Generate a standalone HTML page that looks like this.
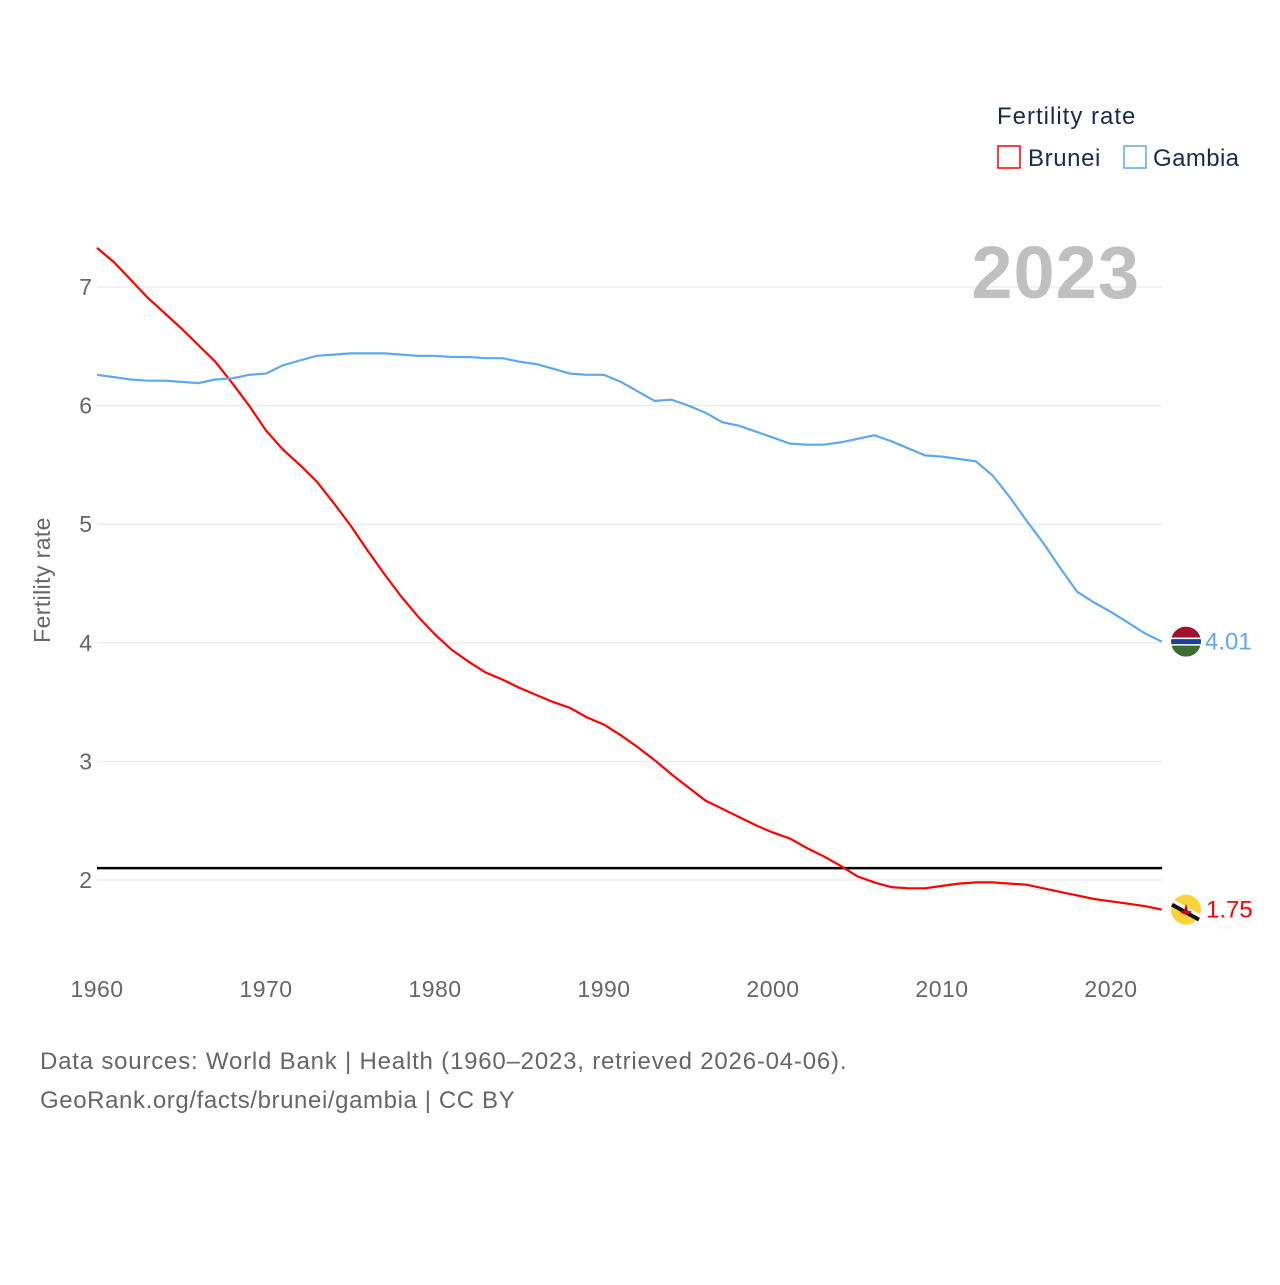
<!DOCTYPE html>
<html><head><meta charset="utf-8">
<style>
body{margin:0;background:#fff;}
svg text{font-family:"Liberation Sans",sans-serif;}
</style></head>
<body>
<svg id="chart" width="1280" height="1280" xmlns="http://www.w3.org/2000/svg">
<rect width="1280" height="1280" fill="#fff"/>
<g id="grid"></g>
<text x="1140" y="298" text-anchor="end" font-size="74" font-weight="bold" fill="#c0c0c0" letter-spacing="1">2023</text>
<g id="plot"></g>
<text transform="translate(50,580) rotate(-90)" text-anchor="middle" font-size="23" fill="#666" letter-spacing="0.4">Fertility rate</text>
<text x="997" y="124" font-size="24" fill="#1a2a4a" letter-spacing="1">Fertility rate</text>
<g>
<rect x="998" y="146" width="22" height="22" fill="none" stroke="#f00" stroke-width="1.5"/>
<text x="1028" y="166" font-size="24" fill="#1a2a4a" letter-spacing="0.6">Brunei</text></g>
<g>
<rect x="1124" y="146" width="22" height="22" fill="none" stroke="#5ea8ee" stroke-width="1.5"/>
<text x="1153" y="166" font-size="24" fill="#1a2a4a" letter-spacing="0.4">Gambia</text></g>
<text x="40" y="1069" font-size="24" fill="#666" letter-spacing="0.8">Data sources: World Bank | Health (1960–2023, retrieved 2026-04-06).</text>
<text x="40" y="1108" font-size="24" fill="#666" letter-spacing="0.6">GeoRank.org/facts/brunei/gambia | CC BY</text>
</svg>
<script>
const years=[];for(let y=1960;y<=2023;y++)years.push(y);
const brunei=[7.33,7.21,7.06,6.91,6.78,6.65,6.51,6.37,6.19,6.0,5.79,5.63,5.50,5.36,5.18,4.99,4.78,4.58,4.39,4.22,4.07,3.94,3.84,3.75,3.69,3.62,3.56,3.50,3.45,3.37,3.31,3.22,3.12,3.01,2.89,2.78,2.67,2.60,2.53,2.46,2.40,2.35,2.27,2.20,2.12,2.03,1.98,1.94,1.93,1.93,1.95,1.97,1.98,1.98,1.97,1.96,1.93,1.90,1.87,1.84,1.82,1.80,1.78,1.75];
const gambia=[6.26,6.24,6.22,6.21,6.21,6.20,6.19,6.22,6.23,6.26,6.27,6.34,6.38,6.42,6.43,6.44,6.44,6.44,6.43,6.42,6.42,6.41,6.41,6.40,6.40,6.37,6.35,6.31,6.27,6.26,6.26,6.20,6.12,6.04,6.05,6.00,5.94,5.86,5.83,5.78,5.73,5.68,5.67,5.67,5.69,5.72,5.75,5.70,5.64,5.58,5.57,5.55,5.53,5.41,5.23,5.03,4.84,4.63,4.43,4.34,4.26,4.17,4.08,4.01];
const yTicks=[2,3,4,5,6,7];
const xTicks=[1960,1970,1980,1990,2000,2010,2020];
const refLine=2.1;
const NS="http://www.w3.org/2000/svg";
const X=v=>97+(v-1960)*(1014/60);
const Y=v=>880-(v-2)*118.6;
function mk(tag,attrs,parent){const e=document.createElementNS(NS,tag);for(const k in attrs)e.setAttribute(k,attrs[k]);parent.appendChild(e);return e;}
const grid=document.getElementById('grid'),plot=document.getElementById('plot');
yTicks.forEach(t=>{
 const l=mk('line',{x1:97,x2:1162,y1:Y(t),y2:Y(t),stroke:'#e6e6e6','stroke-width':1},grid);
 
 
 const tx=mk('text',{x:92,y:Y(t)+8,'text-anchor':'end','font-size':23,fill:'#666'},grid);tx.textContent=t;
 
 
});
xTicks.forEach(t=>{
 const tx=mk('text',{x:X(t),y:997,'text-anchor':'middle','font-size':23,fill:'#666','letter-spacing':0.5},grid);tx.textContent=t;
 
 
});
const rl=mk('line',{x1:97,x2:1162,y1:Y(refLine),y2:Y(refLine),stroke:'#000','stroke-width':2.5},plot);


function series(vals,color,name){
 const p=mk('path',{d:vals.map((v,i)=>(i?'L':'M')+X(years[i]).toFixed(1)+','+Y(v).toFixed(1)).join(''),fill:'none',stroke:color,'stroke-width':2.2},plot);
 
 
}
series(brunei,'#f00','brunei');
series(gambia,'#5ea8ee','gambia');
const gx=1186,gy=Y(gambia[gambia.length-1]);
const gg=mk('g',{},plot);


mk('clipPath',{id:'cg'},gg).appendChild(document.createElementNS(NS,'circle'));
const cc=document.querySelector('#cg circle');cc.setAttribute('cx',gx);cc.setAttribute('cy',gy);cc.setAttribute('r',15);
const gin=mk('g',{'clip-path':'url(#cg)'},gg);
mk('rect',{x:gx-15,y:gy-15,width:30,height:11,fill:'#a0102a'},gin);
mk('rect',{x:gx-15,y:gy-4,width:30,height:8,fill:'#fff'},gin);
mk('rect',{x:gx-15,y:gy-2.5,width:30,height:5,fill:'#1a3e9a'},gin);
mk('rect',{x:gx-15,y:gy+4,width:30,height:11,fill:'#3f6a30'},gin);
const gt=mk('text',{x:1205,y:gy+8,'font-size':24,fill:'#5ea8ee'},plot);gt.textContent=gambia[gambia.length-1].toFixed(2);


const bx=1186,by=Y(brunei[brunei.length-1]);
const bg=mk('g',{},plot);


mk('circle',{cx:bx,cy:by,r:15,fill:'#f8d43a'},bg);
mk('line',{x1:bx-14,y1:by-7,x2:bx+13,y2:by+8,stroke:'#fff','stroke-width':7},bg);
mk('line',{x1:bx-14,y1:by-5,x2:bx+13,y2:by+10,stroke:'#111','stroke-width':4},bg);
mk('path',{d:`M${bx-6},${by+2} Q${bx},${by+8} ${bx+6},${by+2} L${bx+2},${by+1} L${bx},${by-6} L${bx-2},${by+1}Z`,fill:'#d0021b'},bg);
const bt=mk('text',{x:1206,y:by+8,'font-size':24,fill:'#f00'},plot);bt.textContent=brunei[brunei.length-1].toFixed(2);


</script>
</body></html>
